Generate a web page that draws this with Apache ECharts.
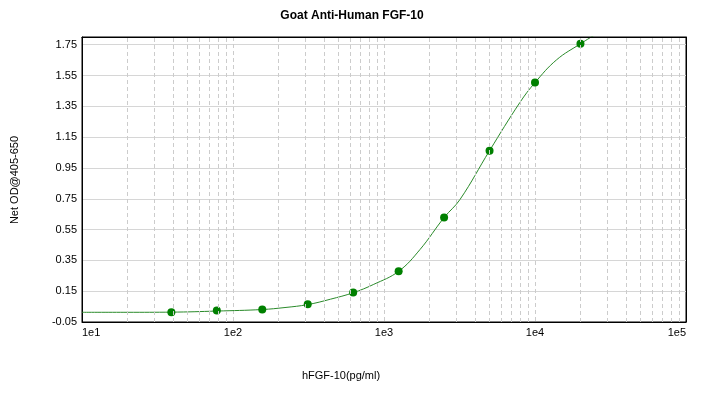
<!DOCTYPE html>
<html>
<head>
<meta charset="utf-8">
<script src="https://cdn.jsdelivr.net/npm/echarts@6/dist/echarts.min.js"></script>
<style>html,body{margin:0;padding:0;background:#fff}#c{width:704px;height:395px}</style>
</head>
<body>
<div id="c"></div>
<script>
// Standards (measured points)
const conc = [39.06, 78.13, 156.25, 312.5, 625, 1250, 2500, 5000, 10000, 20000];
const od   = [0.014, 0.025, 0.031, 0.065, 0.141, 0.279, 0.628, 1.062, 1.504, 1.756];
// Fitted curve
const curveX = [10, 20, 39.06, 78.13, 156.25, 221, 312.5, 442, 625, 849, 1250, 1730, 2500, 3185, 5000, 7943, 10000, 13900, 20000, 25000];
const curveY = [0.013, 0.013, 0.014, 0.021, 0.031, 0.044, 0.063, 0.098, 0.140, 0.193, 0.279, 0.420, 0.628, 0.745, 1.062, 1.375, 1.504, 1.652, 1.756, 1.815];
const decades = [10, 100, 1000, 10000];
const titleText = 'Goat Anti-Human FGF-10';
const xName = 'hFGF-10(pg/ml)';
const yName = 'Net OD@405-650';

const minorLines = [];
decades.forEach(d => { for (let m = 2; m <= 9; m++) minorLines.push({ xAxis: d * m }); });

const chart = echarts.init(document.getElementById('c'), null, { renderer: 'canvas' });
const font = 'Liberation Sans, Arial, sans-serif';
const border = { show: true, onZero: false, lineStyle: { color: '#000', width: 1 } };
chart.setOption({
  animation: false,
  backgroundColor: '#fff',
  title: {
    text: titleText, left: 'center', top: 5,
    textStyle: { fontFamily: font, fontSize: 12, fontWeight: 'bold', color: '#000' }
  },
  grid: { left: 82, right: 18, top: 37, bottom: 73, show: true, borderColor: '#000', borderWidth: 1, backgroundColor: '#fff' },
  xAxis: [{
    type: 'log', logBase: 10, min: 10, max: 100000,
    axisLine: border,
    axisTick: { show: false },
    axisLabel: {
      color: '#000', fontFamily: font, fontSize: 11, margin: 5,
      alignMinLabel: 'left', alignMaxLabel: 'right',
      formatter: v => '1e' + Math.round(Math.log10(v))
    },
    splitLine: { show: true, lineStyle: { color: '#cccccc', type: [4, 3], width: 1 } }
  }, {
    type: 'log', logBase: 10, min: 10, max: 100000, position: 'top',
    axisLine: border, axisTick: { show: false }, axisLabel: { show: false }, splitLine: { show: false }, z: 10
  }],
  yAxis: [{
    type: 'value', min: -0.05, max: 1.8, interval: 0.2,
    axisLine: border,
    axisTick: { show: false },
    axisLabel: {
      color: '#000', fontFamily: font, fontSize: 11, margin: 5, showMaxLabel: false,
      formatter: v => v.toFixed(2)
    },
    splitLine: { show: true, lineStyle: { color: '#d6d6d6', width: 1 } }
  }, {
    type: 'value', min: -0.05, max: 1.8, interval: 0.2, position: 'right',
    axisLine: border, axisTick: { show: false }, axisLabel: { show: false }, splitLine: { show: false }, z: 10
  }],
  graphic: [
    { type: 'text', style: { text: xName, align: 'center', verticalAlign: 'middle', font: '11px ' + font, fill: '#000' }, x: 341, y: 376 },
    { type: 'text', style: { text: yName, align: 'center', verticalAlign: 'middle', font: '11px ' + font, fill: '#000' }, x: 15, y: 180, rotation: Math.PI / 2 }
  ],
  series: [
    {
      type: 'line', data: [], z: 1, silent: true,
      markLine: {
        silent: true, symbol: 'none', label: { show: false },
        lineStyle: { color: '#cccccc', type: [4, 3], width: 1 },
        data: minorLines, animation: false
      }
    },
    {
      type: 'line', z: 3, data: curveX.map((x, i) => [x, curveY[i]]),
      smooth: 0.4, showSymbol: false, clip: true,
      lineStyle: { color: '#2a8a2a', width: 1 }
    },
    {
      type: 'scatter', z: 4, data: conc.map((x, i) => [x, od[i]]),
      symbolSize: 8, itemStyle: { color: '#008000', opacity: 1 }
    }
  ]
});
</script>
</body>
</html>
